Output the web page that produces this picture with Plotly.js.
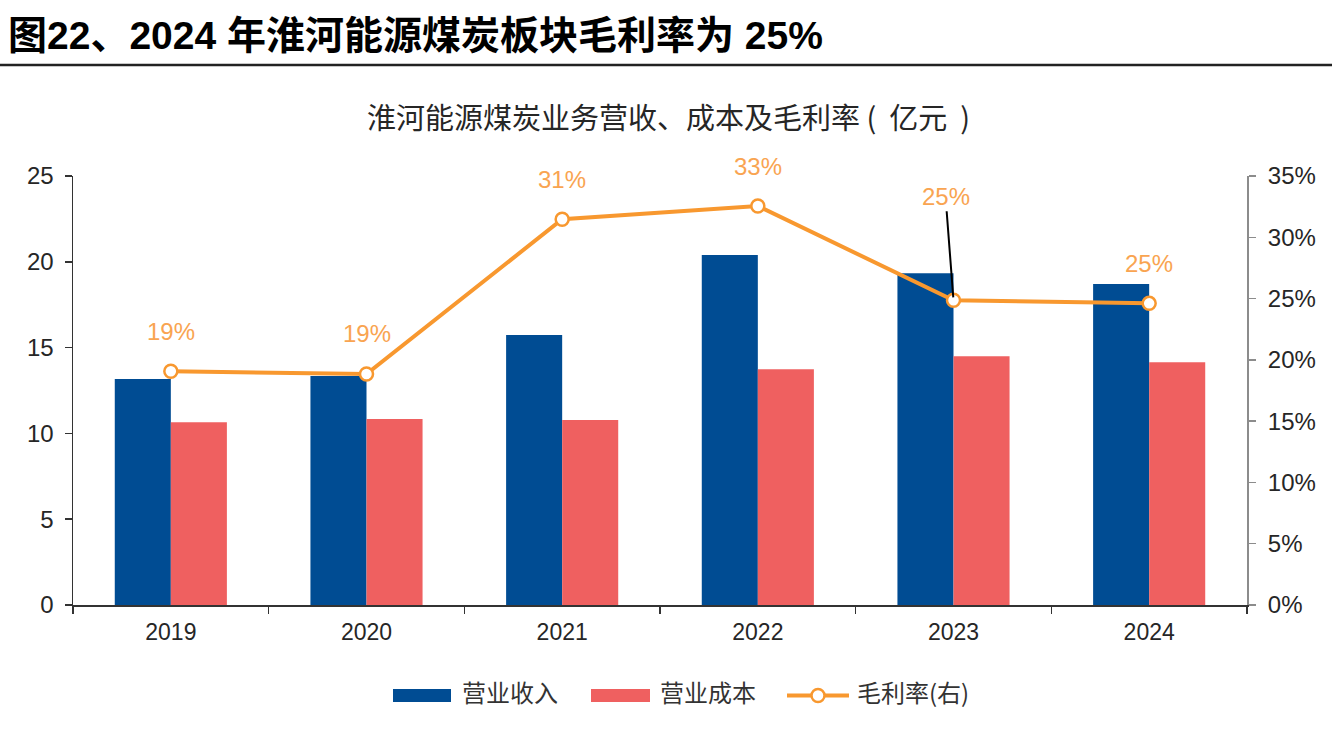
<!DOCTYPE html>
<html>
<head>
<meta charset="utf-8">
<script src="https://cdn.plot.ly/plotly-3.0.1.min.js"></script>
<style>html,body{margin:0;padding:0;background:#fff;}#chart{width:1332px;height:737px;}</style>
</head>
<body>
<div id="chart"></div>
<script>
const years = ['2019', '2020', '2021', '2022', '2023', '2024'];
const revenue = [13.17, 13.35, 15.73, 20.40, 19.33, 18.71];
const cost = [10.65, 10.84, 10.78, 13.74, 14.49, 14.14];
const margin = [0.1907, 0.1885, 0.3147, 0.3255, 0.2486, 0.2461];
const seriesNames = ['营业收入', '营业成本', '毛利率(右)'];
const chartTitle = '图22、2024 年淮河能源煤炭板块毛利率为 25%';
const subTitle = '淮河能源煤炭业务营收、成本及毛利率\u00a0(\u00a0\u00a0亿元\u00a0\u00a0)';

const FONT = '"Liberation Sans", Arial, "Noto Sans CJK SC", sans-serif';
const CJK = '"Noto Sans CJK SC", "Liberation Sans", sans-serif';
const BLUE = '#004C93';
const RED = '#EF6060';
const ORANGE = '#F8982F';
const LABEL_ORANGE = '#F9A451';

// plot area in pixels: x 73..1247, y 176..605
const L = 73, R = 1247, T = 176, B = 605;
const px = v => (v - L) / (R - L);
const py = v => (B - v) / (B - T);

const traces = [
  {type: 'bar', x: years, y: revenue, name: seriesNames[0], marker: {color: BLUE}, showlegend: false, hoverinfo: 'y'},
  {type: 'bar', x: years, y: cost, name: seriesNames[1], marker: {color: RED}, showlegend: false, hoverinfo: 'y'},
  {type: 'scatter', mode: 'lines+markers', x: years, y: margin, yaxis: 'y2', name: seriesNames[2],
   line: {color: ORANGE, width: 4},
   marker: {symbol: 'circle', size: 13, color: '#fff', line: {color: ORANGE, width: 2.5}},
   showlegend: false, cliponaxis: false}
];

const annotations = margin.map((v, i) => {
  const txt = Math.round(v * 100) + '%';
  if (i === 4) {
    return {x: i, y: v, xref: 'x', yref: 'y2', text: txt, showarrow: true,
      arrowhead: 0, arrowwidth: 2, arrowcolor: '#000', ax: -8, ay: -104, standoff: 3,
      font: {family: FONT, size: 24, color: LABEL_ORANGE}};
  }
  return {x: i, y: v, xref: 'x', yref: 'y2', text: txt, showarrow: false,
    yshift: 40, font: {family: FONT, size: 24, color: LABEL_ORANGE}};
});

annotations.push({xref: 'paper', yref: 'paper', x: px(668), y: py(116), xanchor: 'center', yanchor: 'middle',
  text: subTitle, showarrow: false, font: {family: CJK, size: 29, color: '#262626'}});

const legendText = [[460, seriesNames[0]], [658, seriesNames[1]], [855, seriesNames[2]]];
legendText.forEach(([xx, t]) => annotations.push({xref: 'paper', yref: 'paper', x: px(xx), y: py(691),
  xanchor: 'left', yanchor: 'middle', text: t, showarrow: false,
  font: {family: CJK, size: 24, color: '#333'}}));

const shapes = [
  {type: 'line', xref: 'paper', yref: 'paper', x0: px(0), x1: px(1332), y0: py(65), y1: py(65),
   line: {color: '#222', width: 2.5}},
  {type: 'rect', xref: 'paper', yref: 'paper', x0: px(393), x1: px(451), y0: py(702), y1: py(689),
   fillcolor: BLUE, line: {width: 0}},
  {type: 'rect', xref: 'paper', yref: 'paper', x0: px(591), x1: px(650), y0: py(702), y1: py(689),
   fillcolor: RED, line: {width: 0}},
  {type: 'line', xref: 'paper', yref: 'paper', x0: px(787), x1: px(849), y0: py(695.5), y1: py(695.5),
   line: {color: ORANGE, width: 4}},
  {type: 'circle', xref: 'paper', yref: 'paper', xsizemode: 'pixel', ysizemode: 'pixel',
   xanchor: px(818), yanchor: py(695.5), x0: -6.5, x1: 6.5, y0: -6.5, y1: 6.5,
   fillcolor: '#fff', line: {color: ORANGE, width: 2.5}}
];

const layout = {
  width: 1332, height: 737,
  margin: {l: L, r: 1332 - R, t: T, b: 737 - B, pad: 0},
  paper_bgcolor: '#fff', plot_bgcolor: '#fff',
  title: {text: chartTitle, x: 8 / 1332, xref: 'container', xanchor: 'left',
    y: 1 - 35 / 737, yref: 'container', yanchor: 'middle',
    font: {family: FONT, size: 39, color: '#000', weight: 700}},
  barmode: 'group', bargap: 0.427, bargroupgap: 0,
  showlegend: false,
  xaxis: {type: 'category', range: [-0.5, 5.5], showline: true, linecolor: '#333', linewidth: 1.5,
    ticks: 'outside', tickson: 'boundaries', ticklen: 7, tickcolor: '#333', tickwidth: 1.5,
    showgrid: false, zeroline: false, ticklabelstandoff: 6,
    tickfont: {family: FONT, size: 23, color: '#262626'}, fixedrange: true},
  yaxis: {range: [0, 25], dtick: 5, tick0: 0, showline: true, linecolor: '#333', linewidth: 1.5,
    ticks: 'outside', ticklen: 7, tickcolor: '#333', tickwidth: 1.5, showgrid: false, zeroline: false,
    ticklabelstandoff: 6, tickfont: {family: FONT, size: 24, color: '#262626'}, fixedrange: true},
  yaxis2: {overlaying: 'y', side: 'right', range: [0, 0.35], dtick: 0.05, tick0: 0, tickformat: '.0%',
    showline: true, linecolor: '#8c8c8c', linewidth: 2, ticks: 'outside', ticklen: 7, tickcolor: '#8c8c8c',
    tickwidth: 1.5, showgrid: false, zeroline: false, ticklabelstandoff: 7,
    tickfont: {family: FONT, size: 24, color: '#262626'}, fixedrange: true},
  annotations: annotations,
  shapes: shapes
};

Plotly.newPlot('chart', traces, layout, {staticPlot: true, displayModeBar: false});
</script>
</body>
</html>
